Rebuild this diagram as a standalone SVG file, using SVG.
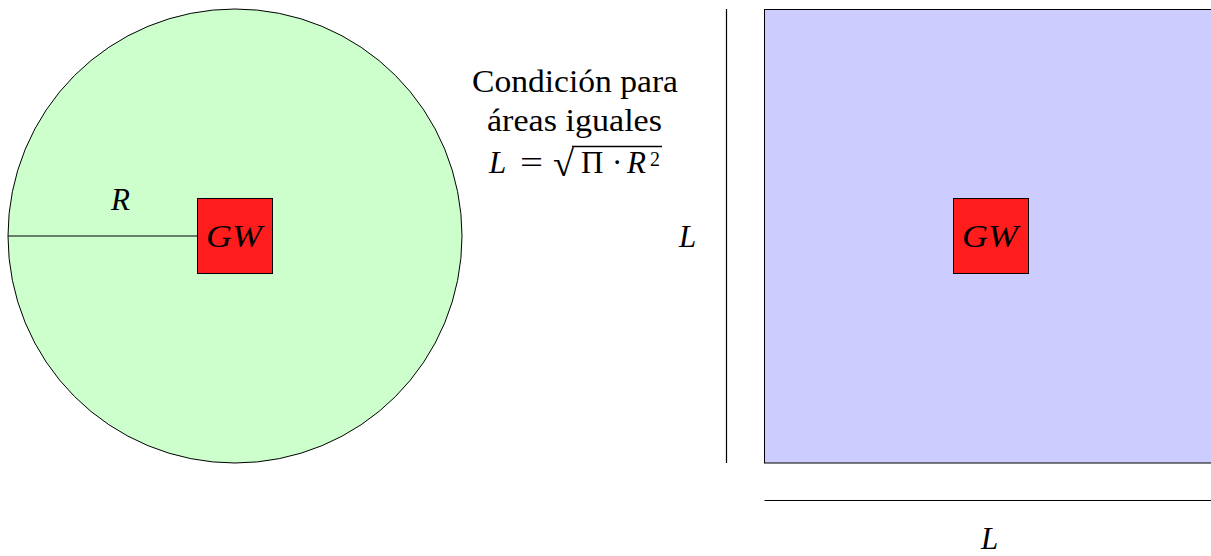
<svg xmlns="http://www.w3.org/2000/svg" width="1211" height="556" viewBox="0 0 1211 556">
<style>
.t{font-family:"Liberation Serif","DejaVu Serif",serif;fill:#000}
.i{font-style:italic}
.ln{stroke:#000;stroke-width:1.2;fill:none}
.gw{fill:#ff1c1c;stroke:#000;stroke-width:1}
</style>
<rect width="1211" height="556" fill="#fff"/>
<g id="circle">
<circle cx="235" cy="236" r="227" fill="#ccffcc" stroke="#000" stroke-width="1"/>
</g>
<g id="square">
<rect x="764.5" y="9.5" width="460" height="453.5" fill="#ccccff" stroke="#000" stroke-width="1"/>
</g>
<g id="connectors">
<line class="ln" x1="8" y1="236" x2="197.5" y2="236"/>
<line class="ln" x1="726.5" y1="9" x2="726.5" y2="463"/>
<line class="ln" x1="764.5" y1="500.5" x2="1211" y2="500.5"/>
</g>
<g id="gw-left">
<rect class="gw" x="197.5" y="198.5" width="75" height="75"/>
<text class="t i" x="206" y="247" font-size="31" textLength="56" lengthAdjust="spacingAndGlyphs">GW</text>
</g>
<g id="gw-right">
<rect class="gw" x="953.5" y="198.5" width="75" height="75"/>
<text class="t i" x="962" y="247" font-size="31" textLength="56" lengthAdjust="spacingAndGlyphs">GW</text>
</g>
<g id="labels">
<text class="t i" x="111" y="210" font-size="31">R</text>
<text class="t i" x="679" y="247" font-size="31">L</text>
<text class="t i" x="981" y="549" font-size="31">L</text>
<text class="t" x="472" y="92" font-size="31" textLength="206" lengthAdjust="spacingAndGlyphs">Condición para</text>
<text class="t" x="487" y="131" font-size="31" textLength="175" lengthAdjust="spacingAndGlyphs">áreas iguales</text>
<g id="formula">
<text class="t i" x="489" y="173" font-size="31">L</text>
<text class="t" x="520" y="173" font-size="31" textLength="23" lengthAdjust="spacingAndGlyphs">=</text>
<text class="t" x="553" y="176" font-size="36" textLength="21" lengthAdjust="spacingAndGlyphs">√</text>
<line x1="572" y1="146.5" x2="662" y2="146.5" stroke="#000" stroke-width="1.5"/>
<text class="t" x="581" y="173" font-size="31">Π</text>
<text class="t" x="612" y="173" font-size="31">·</text>
<text class="t i" x="627" y="173" font-size="31">R</text>
<text class="t" x="650" y="166" font-size="20">2</text>
</g>
</g>
</svg>
